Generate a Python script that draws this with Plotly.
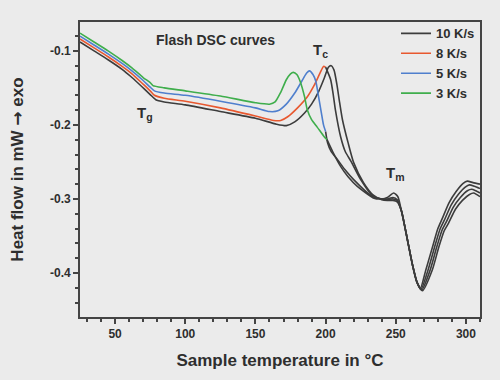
import plotly.graph_objects as go

# ---------------- data ----------------
series_names = ["10 K/s", "8 K/s", "5 K/s", "3 K/s"]

temp_10 = [25, 35, 45, 55, 62, 70, 75, 79, 85, 100, 125, 150, 165, 172, 178, 185, 190, 195, 199, 202, 204, 206, 208,
           210, 212, 216, 220, 227, 234, 240, 244, 248, 251, 254, 256.5, 259, 262, 265, 269,
           276, 280.5, 284.5, 287.5, 292.5, 297.5, 302.5, 305.5, 310]
hf_10 = [-0.088, -0.100, -0.112, -0.125, -0.136, -0.150, -0.159, -0.166, -0.169, -0.173, -0.182, -0.191, -0.199,
         -0.201, -0.196, -0.184, -0.172, -0.155, -0.137, -0.122, -0.120, -0.126, -0.145,
         -0.170, -0.193, -0.224, -0.251, -0.278, -0.295, -0.301, -0.302, -0.302, -0.304, -0.316, -0.338, -0.362,
         -0.390, -0.412, -0.424,
         -0.396, -0.366, -0.343, -0.333, -0.314, -0.302, -0.294, -0.292, -0.297]

temp_8 = [25, 35, 45, 55, 62, 70, 75, 78, 85, 100, 125, 150, 163, 168, 173, 180, 187, 192, 196, 198.5, 200,
          203.6, 205.5, 207, 210.7, 214, 218, 225, 234, 240, 244, 248, 251, 254, 256.5, 259, 262, 265, 268.5,
          274.5, 279, 283, 286, 291, 296, 301, 304, 307, 310]
hf_8 = [-0.084, -0.096, -0.108, -0.121, -0.131, -0.145, -0.154, -0.160, -0.164, -0.168, -0.177, -0.188, -0.194,
        -0.194, -0.189, -0.177, -0.162, -0.146, -0.130, -0.121, -0.122,
        -0.139, -0.160, -0.180, -0.216, -0.236, -0.249, -0.274, -0.297, -0.300, -0.301, -0.300, -0.302, -0.316,
        -0.338, -0.362, -0.390, -0.412, -0.423,
        -0.396, -0.366, -0.342, -0.331, -0.311, -0.298, -0.289, -0.287, -0.289, -0.292]

temp_5 = [25, 35, 45, 55, 62, 70, 75, 78, 85, 100, 125, 150, 160, 166, 172, 178, 183, 186.5, 188.5, 191, 193, 195,
          197, 198.5, 200, 201.4, 204, 208.5, 214, 220, 232, 240, 244, 248, 251, 254, 256.5, 259, 262, 265, 268,
          273, 277.5, 281.5, 284.5, 289.5, 294.5, 299.5, 302.5, 306, 310]
hf_5 = [-0.080, -0.092, -0.104, -0.117, -0.127, -0.140, -0.149, -0.154, -0.157, -0.160, -0.168, -0.177, -0.182,
        -0.181, -0.172, -0.157, -0.141, -0.130, -0.127, -0.132, -0.141, -0.162,
        -0.184, -0.200, -0.209, -0.224, -0.236, -0.247, -0.261, -0.274, -0.295, -0.300, -0.300, -0.298, -0.301,
        -0.316, -0.338, -0.362, -0.390, -0.412, -0.422,
        -0.396, -0.366, -0.341, -0.329, -0.308, -0.294, -0.284, -0.281, -0.283, -0.286]

temp_3 = [25, 35, 45, 55, 62, 70, 75, 77, 85, 100, 125, 150, 160, 164, 168, 172, 175, 177, 179.5, 182, 185, 187,
          190, 194, 199, 201, 205, 210.7, 216, 222.6, 234.5, 240, 244, 248.5, 251.5, 254, 256.5, 259, 262, 265,
          267.5, 271.4, 276, 280, 283, 288, 293, 298, 301, 305, 310]
hf_3 = [-0.076, -0.088, -0.100, -0.113, -0.123, -0.136, -0.143, -0.147, -0.150, -0.154, -0.161, -0.170, -0.172,
        -0.169, -0.156, -0.139, -0.131, -0.129, -0.132, -0.142, -0.162, -0.180,
        -0.193, -0.203, -0.216, -0.220, -0.236, -0.256, -0.270, -0.283, -0.299, -0.300, -0.298, -0.292, -0.297,
        -0.316, -0.338, -0.362, -0.390, -0.412, -0.421,
        -0.396, -0.366, -0.340, -0.327, -0.305, -0.290, -0.279, -0.276, -0.278, -0.280]

# temperature up to which each curve is drawn in its colour (then black)
colour_end = [310, 200, 200, 201]

x_tick_vals = [50, 100, 150, 200, 250, 300]
x_tick_text = ["50", "100", "150", "200", "250", "300"]
y_tick_vals = [-0.1, -0.2, -0.3, -0.4]
y_tick_text = ["-0.1", "-0.2", "-0.3", "-0.4"]

# ---------------- styling ----------------
colours = ["#3c3c3c", "#e8582f", "#4f7fcd", "#3fae4c"]
black = "#3c3c3c"
bg = "#ebebeb"
txt = "#2e2e2e"
FONT = "Liberation Sans, Arial, sans-serif"

fig = go.Figure()
all_t = [temp_10, temp_8, temp_5, temp_3]
all_h = [hf_10, hf_8, hf_5, hf_3]

for name, t, h, col, end in zip(series_names, all_t, all_h, colours, colour_end):
    ct = [a for a in t if a <= end]
    ch = [b for a, b in zip(t, h) if a <= end]
    fig.add_trace(go.Scatter(x=ct, y=ch, mode="lines", name=name,
                             line=dict(color=col, width=1.6, shape="spline", smoothing=0.6)))
    bt = [a for a in t if a >= end]
    bh = [b for a, b in zip(t, h) if a >= end]
    if len(bt) > 1:
        fig.add_trace(go.Scatter(x=bt, y=bh, mode="lines", showlegend=False, hoverinfo="skip",
                                 line=dict(color=black, width=1.6, shape="spline", smoothing=0.6)))

axis_common = dict(showline=True, linecolor="#444444", linewidth=1.6, mirror=True,
                   ticks="outside", tickcolor="#444444", tickwidth=1.6, ticklen=5,
                   showgrid=False, zeroline=False, automargin=False,
                   tickfont=dict(family=FONT, size=12, color=txt, weight="bold"))

fig.update_xaxes(range=[25, 310], tickmode="array", tickvals=x_tick_vals, ticktext=x_tick_text,
                 minor=dict(ticks="outside", dtick=10, tick0=0, ticklen=3, tickwidth=1.6, tickcolor="#444444"),
                 title=dict(text="Sample temperature in °C",
                            font=dict(family=FONT, size=17, color=txt, weight="bold"), standoff=14),
                 **axis_common)
fig.update_yaxes(range=[-0.4595, -0.061], tickmode="array", tickvals=y_tick_vals, ticktext=y_tick_text,
                 minor=dict(ticks="outside", dtick=0.02, tick0=0, ticklen=3, tickwidth=1.6, tickcolor="#444444"),
                 title=dict(text="Heat flow in mW <span style='font-family:DejaVu Sans'>\u2192</span> exo",
                            font=dict(family=FONT, size=17, color=txt, weight="bold"), standoff=22),
                 **axis_common)

ann_font = dict(family=FONT, size=15, color=txt, weight="bold")
fig.add_annotation(x=121.4, y=-0.085, text="Flash DSC curves", showarrow=False,
                   font=dict(family=FONT, size=14, color=txt, weight="bold"))
fig.add_annotation(x=71, y=-0.185, text="T<sub>g</sub>", showarrow=False, font=ann_font)
fig.add_annotation(x=196, y=-0.100, text="T<sub>c</sub>", showarrow=False, font=ann_font)
fig.add_annotation(x=250, y=-0.266, text="T<sub>m</sub>", showarrow=False, font=ann_font)

fig.update_layout(
    width=500, height=380,
    margin=dict(l=80, r=20, t=22, b=63),
    paper_bgcolor=bg, plot_bgcolor=bg,
    font=dict(family=FONT, color=txt),
    showlegend=True,
    legend=dict(x=0.79, y=1.012, xanchor="left", yanchor="top", bgcolor="rgba(0,0,0,0)",
                font=dict(family=FONT, size=13, color=txt, weight="bold"),
                tracegroupgap=0, itemwidth=30),
)

fig.write_html("out.html", config={"displayModeBar": False},
               post_script="document.body.style.margin='0px';document.body.style.overflow='hidden';")
